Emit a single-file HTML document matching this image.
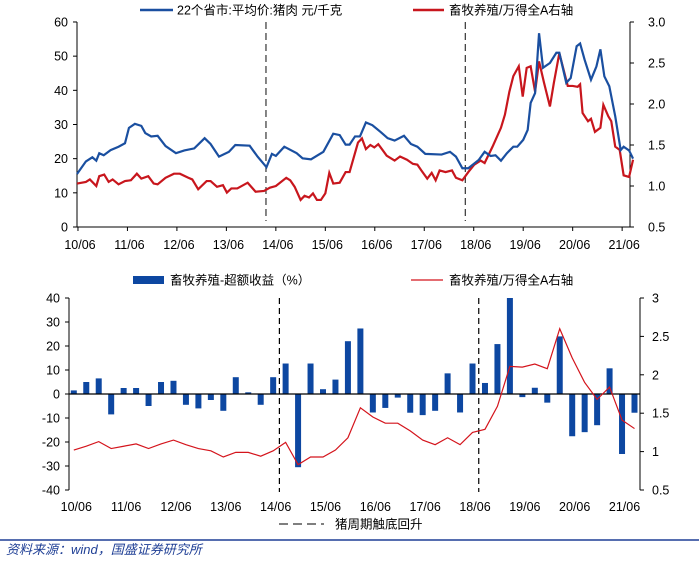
<!DOCTYPE html>
<html><head><meta charset="utf-8"><style>
html,body{margin:0;padding:0;background:#fff;}
svg text{font-family:"Liberation Sans","Noto Sans CJK SC",sans-serif;font-size:12.5px;fill:#000;}
</style></head><body>
<svg id="c" width="699" height="558" xmlns="http://www.w3.org/2000/svg"></svg>
<script>
const yearLabels=["10/06","11/06","12/06","13/06","14/06","15/06","16/06","17/06","18/06","19/06","20/06","21/06"];
const topLeftTicks=[0,10,20,30,40,50,60];
const topRightTicks=["0.5","1.0","1.5","2.0","2.5","3.0"];
const botLeftTicks=[-40,-30,-20,-10,0,10,20,30,40];
const botRightTicks=["0.5","1","1.5","2","2.5","3"];
const priceT=[2010.42,2010.60,2010.73,2010.81,2010.87,2010.96,2011.10,2011.26,2011.39,2011.47,2011.59,2011.72,2011.80,2011.92,2012.05,2012.21,2012.42,2012.59,2012.79,2013.00,2013.12,2013.29,2013.49,2013.62,2013.91,2014.07,2014.25,2014.36,2014.44,2014.61,2014.86,2014.98,2015.15,2015.40,2015.60,2015.73,2015.85,2015.93,2016.04,2016.14,2016.26,2016.39,2016.55,2016.70,2016.84,2017.03,2017.17,2017.30,2017.46,2017.79,2017.96,2018.08,2018.21,2018.33,2018.54,2018.66,2018.78,2018.88,2018.99,2019.11,2019.24,2019.32,2019.44,2019.53,2019.59,2019.68,2019.76,2019.84,2019.98,2020.11,2020.17,2020.31,2020.40,2020.52,2020.59,2020.68,2020.81,2020.92,2021.00,2021.08,2021.18,2021.30,2021.41,2021.47,2021.58,2021.66];
const priceV=[15.5,19.2,20.4,19.4,21.6,21,22.5,23.5,24.5,29,30.2,29.6,27.5,26.5,26.7,23.7,21.6,22.4,23,26,24.3,20.6,22,24,23.8,20.6,17.5,21.4,20.8,23.5,21.6,20.1,19.8,22,27.3,26.9,24.1,24.1,26.5,26.5,30.6,29.8,27.9,26,25.3,26.7,24.3,23.5,21.4,21.2,22,20.6,17.2,17.2,19.6,22,20.8,21,19.4,21.6,23.5,23.5,25.5,28.4,36.3,39.2,56.7,46.6,48,51,51,42.2,43.6,52.9,53.7,49,43.1,47,52,44.1,41.2,32.4,22.5,23.5,22.4,20];
const ratioT=[2010.42,2010.60,2010.68,2010.81,2010.87,2010.97,2011.06,2011.14,2011.26,2011.39,2011.51,2011.63,2011.72,2011.86,2011.97,2012.05,2012.21,2012.38,2012.50,2012.67,2012.75,2012.87,2013.04,2013.12,2013.25,2013.37,2013.45,2013.54,2013.66,2013.87,2014.03,2014.20,2014.32,2014.44,2014.65,2014.73,2014.82,2014.94,2015.02,2015.11,2015.19,2015.27,2015.35,2015.44,2015.52,2015.60,2015.73,2015.85,2015.93,2016.10,2016.18,2016.26,2016.35,2016.43,2016.51,2016.68,2016.84,2016.95,2017.09,2017.21,2017.30,2017.38,2017.50,2017.59,2017.67,2017.75,2017.87,2018.00,2018.08,2018.21,2018.33,2018.45,2018.58,2018.66,2018.82,2018.99,2019.07,2019.16,2019.24,2019.35,2019.43,2019.51,2019.59,2019.68,2019.76,2019.86,2019.98,2020.06,2020.17,2020.34,2020.44,2020.54,2020.59,2020.64,2020.75,2020.81,2020.89,2021.00,2021.06,2021.16,2021.22,2021.30,2021.39,2021.47,2021.58,2021.66];
const ratioV=[1.03,1.05,1.08,1.00,1.12,1.14,1.05,1.08,1.02,1.06,1.07,1.15,1.09,1.12,1.03,1.02,1.10,1.15,1.15,1.10,1.08,0.96,1.06,1.06,0.99,1.01,0.92,0.97,0.97,1.04,0.93,0.94,0.98,1.00,1.10,1.07,0.99,0.83,0.88,0.86,0.91,0.83,0.83,0.91,1.16,1.03,1.04,1.17,1.17,1.53,1.58,1.45,1.50,1.47,1.51,1.37,1.31,1.36,1.32,1.27,1.26,1.19,1.09,1.16,1.07,1.19,1.17,1.19,1.10,1.07,1.17,1.26,1.31,1.28,1.48,1.71,1.87,2.15,2.34,2.46,2.09,2.44,2.46,2.15,2.52,2.26,1.97,2.26,2.62,2.22,2.22,2.21,2.24,1.89,1.79,1.82,1.66,1.71,1.99,1.85,1.79,1.48,1.44,1.13,1.11,1.32];
const topDashT=[2014.24,2018.27];
const excessV=[1.5,5,6.5,-8.5,2.5,2.5,-5,5,5.5,-4.5,-6,-2.5,-7,7,0.7,-4.5,7,12.7,-30.5,12.7,2,6,22,27.3,-7.7,-5.8,-1.5,-7.8,-8.8,-7,8.6,-7.7,12.7,4.6,20.8,40,-1.3,2.6,-3.6,24,-17.6,-15.9,-13,10.7,-25,-7.8];
const qRatioV=[1.02,1.07,1.13,1.04,1.07,1.10,1.04,1.10,1.15,1.09,1.04,1.01,0.93,0.99,0.99,0.94,1.01,1.12,0.83,0.93,0.93,1.02,1.18,1.57,1.45,1.37,1.37,1.27,1.15,1.09,1.18,1.09,1.25,1.29,1.59,2.11,2.10,2.14,2.08,2.60,2.22,1.90,1.68,1.84,1.41,1.30];
const botDashQ=[16.5,32.5];

const svg=document.getElementById('c');
const NS='http://www.w3.org/2000/svg';
function mk(tag,attrs,parent){const e=document.createElementNS(NS,tag);for(const k in attrs)e.setAttribute(k,attrs[k]);(parent||svg).appendChild(e);return e;}
function txt(x,y,s,anchor,parent){const t=mk('text',{x:x,y:y,'text-anchor':anchor||'start'},parent);t.textContent=s;return t;}

// ---- TOP CHART ----
const tx=t=>77+(t-2010.42)*49.47;
const tyL=v=>227-v*3.417;
const tyR=v=>227-(v-0.5)*82;
const topG=mk('g',{});


let a=mk('line',{x1:77,y1:22,x2:77,y2:227,stroke:'#000'},topG);

a=mk('line',{x1:630,y1:22,x2:630,y2:227,stroke:'#000'},topG);

a=mk('line',{x1:77,y1:227,x2:630,y2:227,stroke:'#000'},topG);

topLeftTicks.forEach(v=>{const y=tyL(v);mk('line',{x1:73,y1:y,x2:77,y2:y,stroke:'#000'},topG);
 const t=txt(68,y+4.5,String(v),'end',topG);});
topRightTicks.forEach(v=>{const y=tyR(parseFloat(v));mk('line',{x1:630,y1:y,x2:634,y2:y,stroke:'#000'},topG);
 const t=txt(648,y+4.5,v,'start',topG);});
yearLabels.forEach((s,i)=>{const x=tx(2010.48+i);mk('line',{x1:x-2,y1:227,x2:x-2,y2:231,stroke:'#000'},topG);
 const t=txt(x,249,s,'middle',topG);});
topDashT.forEach(t=>{const l=mk('line',{x1:tx(t),y1:22,x2:tx(t),y2:221,stroke:'#444','stroke-width':1.3,'stroke-dasharray':'7,4'},topG);
 });
let p=mk('polyline',{points:ratioT.map((t,i)=>tx(t)+','+tyR(ratioV[i])).join(' '),fill:'none',stroke:'#c8161d','stroke-width':2.2},topG);

p=mk('polyline',{points:priceT.map((t,i)=>tx(t)+','+tyL(priceV[i])).join(' '),fill:'none',stroke:'#1a4fa0','stroke-width':2.2},topG);

let lg=mk('g',{},topG);
mk('line',{x1:140,y1:10,x2:173,y2:10,stroke:'#1a4fa0','stroke-width':2.5},lg);
txt(177,14.5,'22个省市:平均价:猪肉 元/千克','start',lg);
lg=mk('g',{},topG);
mk('line',{x1:413,y1:10,x2:444,y2:10,stroke:'#c8161d','stroke-width':2.5},lg);
txt(449,14.5,'畜牧养殖/万得全A右轴','start',lg);

// ---- BOTTOM CHART ----
const bx=i=>73.8+i*12.46;
const byL=v=>394-v*2.4;
const byR=v=>490-(v-0.5)*76.8;
const botG=mk('g',{});


a=mk('line',{x1:69,y1:298,x2:69,y2:490,stroke:'#000'},botG);

a=mk('line',{x1:640,y1:298,x2:640,y2:490,stroke:'#000'},botG);

botLeftTicks.forEach(v=>{const y=byL(v);mk('line',{x1:65,y1:y,x2:69,y2:y,stroke:'#000'},botG);
 const t=txt(60,y+4.5,String(v),'end',botG);});
botRightTicks.forEach(v=>{const y=byR(parseFloat(v));mk('line',{x1:640,y1:y,x2:644,y2:y,stroke:'#000'},botG);
 const t=txt(652,y+4.5,v,'start',botG);});
yearLabels.forEach((s,i)=>{const t=txt(bx(4*i+0.2),511,s,'middle',botG);});
excessV.forEach((v,i)=>{const y0=byL(0),y1=byL(Math.min(v,40));
 const r=mk('rect',{x:bx(i)-3,y:Math.min(y0,y1),width:6,height:Math.abs(y1-y0),fill:'#0d47a1'},botG);
 });
a=mk('line',{x1:69,y1:394,x2:640,y2:394,stroke:'#000','stroke-width':1.3},botG);

botDashQ.forEach(q=>{const l=mk('line',{x1:bx(q),y1:298,x2:bx(q),y2:492,stroke:'#000','stroke-width':1.2,'stroke-dasharray':'6,4'},botG);
 });
p=mk('polyline',{points:qRatioV.map((v,i)=>bx(i)+','+byR(v)).join(' '),fill:'none',stroke:'#d4141c','stroke-width':1.2},botG);

lg=mk('g',{},botG);
mk('rect',{x:133,y:276,width:31,height:8,fill:'#0d47a1'},lg);
txt(170,284.5,'畜牧养殖-超额收益（%）','start',lg);
lg=mk('g',{},botG);
mk('line',{x1:411,y1:280,x2:443,y2:280,stroke:'#d4141c','stroke-width':1.3},lg);
txt(449,284.5,'畜牧养殖/万得全A右轴','start',lg);
lg=mk('g',{},botG);
mk('line',{x1:279,y1:524,x2:324,y2:524,stroke:'#555','stroke-width':1.5,'stroke-dasharray':'9,5'},lg);
txt(335,528.5,'猪周期触底回升','start',lg);

a=mk('line',{x1:0,y1:540,x2:699,y2:540,stroke:'#1f3f95','stroke-width':1.5});

const src=txt(6,554,'资料来源：wind，国盛证券研究所','start');
src.setAttribute('style','fill:#1f3f95;font-style:italic;font-size:13px');


</script>
</body></html>
